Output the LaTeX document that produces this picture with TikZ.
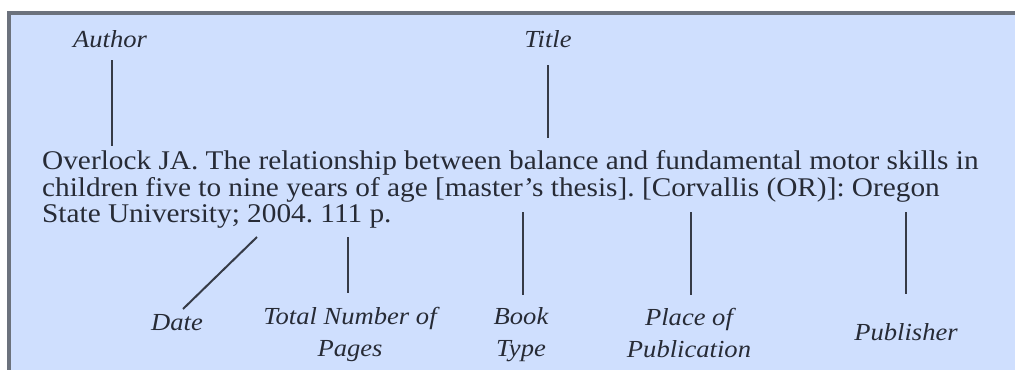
\documentclass[tikz,border=0pt]{standalone}
\usepackage{fontspec}
\setmainfont[FakeStretch=1.085]{Liberation Serif}
\definecolor{bgblue}{HTML}{CFDFFE}
\definecolor{bordercol}{HTML}{6C727D}
\definecolor{inkcol}{HTML}{272B36}
\definecolor{linecol}{HTML}{363B47}
\tikzset{
  maintext/.style={inner sep=0pt, anchor=base west, text=inkcol, font=\fontsize{27}{27}\selectfont},
  lbl/.style={inner sep=0pt, anchor=base, text=inkcol, font=\fontsize{24.5}{32}\selectfont\itshape},
  lbltwo/.style={inner sep=0pt, anchor=north, align=center, text=inkcol, font=\fontsize{24.5}{32}\selectfont\itshape},
  pointer/.style={draw=linecol, line width=2pt}
}
\frenchspacing
\begin{document}
\begin{tikzpicture}[x=1pt,y=-1pt]
\useasboundingbox (0,0) rectangle (1015,370);
\fill[white] (0,0) rectangle (1015,370);
\fill[bgblue] (11,15) rectangle (1015,370);
\fill[bordercol] (7,11) rectangle (1015,15);
\fill[bordercol] (7,11) rectangle (11,370);

% citation text
\node[maintext] (line1) at (42,169.5) {Overlock JA. The relationship between balance and fundamental motor skills in};
\node[maintext] (line2) at (42,196) {children five to nine years of age [master's thesis]. [Corvallis (OR)]: Oregon};
\node[maintext] (line3) at (42,222.5) {State University; 2004. 111 p.};

% labels
\node[lbl] (author) at (110,47) {Author};
\node[lbl] (title) at (548,47) {Title};
\node[lbl] (date) at (177,330) {Date};
\node[lbltwo] (pages) at (350,307.5) {Total Number of\\Pages};
\node[lbltwo] (book) at (521,307.5) {Book\\Type};
\node[lbltwo] (place) at (689,308.5) {Place of\\Publication};
\node[lbl] (publisher) at (906,340) {Publisher};

% pointer end points
\coordinate (authorA) at (111.5,60);
\coordinate (authorB) at (111.5,146);
\coordinate (titleA) at (548,65);
\coordinate (titleB) at (548,138);
\coordinate (dateA) at (257,237);
\coordinate (dateB) at (183,309);
\coordinate (pagesA) at (348,237);
\coordinate (pagesB) at (348,293);
\coordinate (bookA) at (522.5,212);
\coordinate (bookB) at (522.5,295);
\coordinate (placeA) at (690.5,212);
\coordinate (placeB) at (690.5,295);
\coordinate (pubA) at (906,212);
\coordinate (pubB) at (906,294);

\draw[pointer] (authorA) -- (authorB);
\draw[pointer] (titleA) -- (titleB);
\draw[pointer] (dateA) -- (dateB);
\draw[pointer] (pagesA) -- (pagesB);
\draw[pointer] (bookA) -- (bookB);
\draw[pointer] (placeA) -- (placeB);
\draw[pointer] (pubA) -- (pubB);
\end{tikzpicture}
\end{document}
